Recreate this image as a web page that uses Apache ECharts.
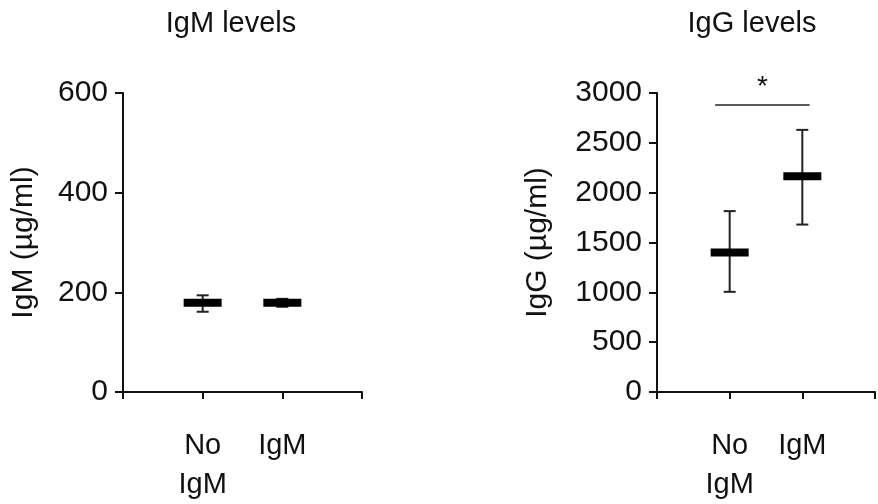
<!doctype html>
<html>
<head>
<meta charset="utf-8">
<title>IgM / IgG levels</title>
<script src="https://cdn.jsdelivr.net/npm/echarts@6/dist/echarts.min.js"></script>
<style>
  html, body { margin: 0; padding: 0; background: #fff; }
  #main { width: 878px; height: 504px; }
</style>
</head>
<body>
<div id="main"></div>
<script>
// group names (x positions 1 and 2)
var groups = ['No\nIgM', 'IgM'];
var titles = ['IgM levels', 'IgG levels'];
var axisNames = ['IgM (µg/ml)', 'IgG (µg/ml)'];

// IgM panel: mean, lower and upper end of the error bar
var igmMean = [179, 179];
var igmLow = [161, 171];
var igmHigh = [194, 187];

// IgG panel
var iggMean = [1400, 2165];
var iggLow = [1005, 1680];
var iggHigh = [1815, 2630];

// significance bar over the IgG panel
var sigFrom = 0.8, sigTo = 2.1, sigLevel = 2880, sigText = '*';

var font = 'Liberation Sans, Arial, sans-serif';
var ink = '#111';

function rows(mean, low, high) {
    var out = [];
    for (var i = 0; i < mean.length; i++) {
        out.push([i + 1, mean[i], low[i], high[i]]);
    }
    return out;
}

function renderErr(params, api) {
    var x = api.value(0);
    var pm = api.coord([x, api.value(1)]);
    var pl = api.coord([x, api.value(2)]);
    var ph = api.coord([x, api.value(3)]);
    var cap = 6, halfW = 19, halfH = 4;
    var st = { stroke: '#222', lineWidth: 2 };
    return {
        type: 'group',
        children: [
            { type: 'line', shape: { x1: pl[0], y1: pl[1], x2: ph[0], y2: ph[1] }, style: st },
            { type: 'line', shape: { x1: ph[0] - cap, y1: ph[1], x2: ph[0] + cap, y2: ph[1] }, style: st },
            { type: 'line', shape: { x1: pl[0] - cap, y1: pl[1], x2: pl[0] + cap, y2: pl[1] }, style: st },
            { type: 'rect', shape: { x: pm[0] - halfW, y: pm[1] - halfH, width: halfW * 2, height: halfH * 2 }, style: { fill: '#000' } }
        ]
    };
}

function renderSig(params, api) {
    var a = api.coord([api.value(0), api.value(2)]);
    var b = api.coord([api.value(1), api.value(2)]);
    return {
        type: 'group',
        children: [
            { type: 'line', shape: { x1: a[0], y1: a[1], x2: b[0], y2: b[1] }, style: { stroke: '#222', lineWidth: 1.5 } },
            { type: 'text', x: (a[0] + b[0]) / 2, y: a[1] - 18,
              style: { text: sigText, font: '28px ' + font, fill: ink, align: 'center', verticalAlign: 'middle' } }
        ]
    };
}

function xAxisFor(gridIndex) {
    return {
        type: 'value', gridIndex: gridIndex, min: 0, max: 3, interval: 1,
        axisLine: { lineStyle: { color: ink, width: 2 } },
        axisTick: { show: true, length: 7, lineStyle: { color: ink, width: 2 } },
        splitLine: { show: false },
        axisLabel: {
            margin: 34, color: ink, fontFamily: font, fontSize: 29, lineHeight: 39,
            verticalAlign: 'top',
            formatter: function (v) { return groups[v - 1] || ''; }
        }
    };
}

function yAxisFor(gridIndex, max, interval, gap) {
    return {
        type: 'value', gridIndex: gridIndex, min: 0, max: max, interval: interval,
        name: axisNames[gridIndex], nameLocation: 'middle', nameGap: gap, nameRotate: 90,
        nameTextStyle: { color: ink, fontFamily: font, fontSize: 30 },
        axisLine: { show: true, lineStyle: { color: ink, width: 2 } },
        axisTick: { show: true, length: 8, lineStyle: { color: ink, width: 2 } },
        splitLine: { show: false },
        axisLabel: {
            margin: 15, color: ink, fontFamily: font, fontSize: 30,
            formatter: function (v) { return String(v); }
        }
    };
}

var chart = echarts.init(document.getElementById('main'));
chart.setOption({
    backgroundColor: '#fff',
    animation: false,
    graphic: [
        { type: 'text', x: 231, y: 24, style: { text: titles[0], font: '29px ' + font, fill: ink, align: 'center', verticalAlign: 'middle' } },
        { type: 'text', x: 752, y: 24, style: { text: titles[1], font: '29px ' + font, fill: ink, align: 'center', verticalAlign: 'middle' } }
    ],
    grid: [
        { left: 123, top: 93, width: 239, height: 300 },
        { left: 657, top: 93, width: 226, height: 300 }
    ],
    xAxis: [xAxisFor(0), xAxisFor(1)],
    yAxis: [yAxisFor(0, 600, 200, 84), yAxisFor(1, 3000, 500, 104)],
    series: [
        { type: 'custom', xAxisIndex: 0, yAxisIndex: 0, renderItem: renderErr,
          data: rows(igmMean, igmLow, igmHigh), encode: { x: 0, y: [1, 2, 3] } },
        { type: 'custom', xAxisIndex: 1, yAxisIndex: 1, renderItem: renderErr,
          data: rows(iggMean, iggLow, iggHigh), encode: { x: 0, y: [1, 2, 3] } },
        { type: 'custom', xAxisIndex: 1, yAxisIndex: 1, renderItem: renderSig, clip: false,
          data: [[sigFrom, sigTo, sigLevel]], encode: { x: [0, 1], y: 2 } }
    ]
});
</script>
</body>
</html>
